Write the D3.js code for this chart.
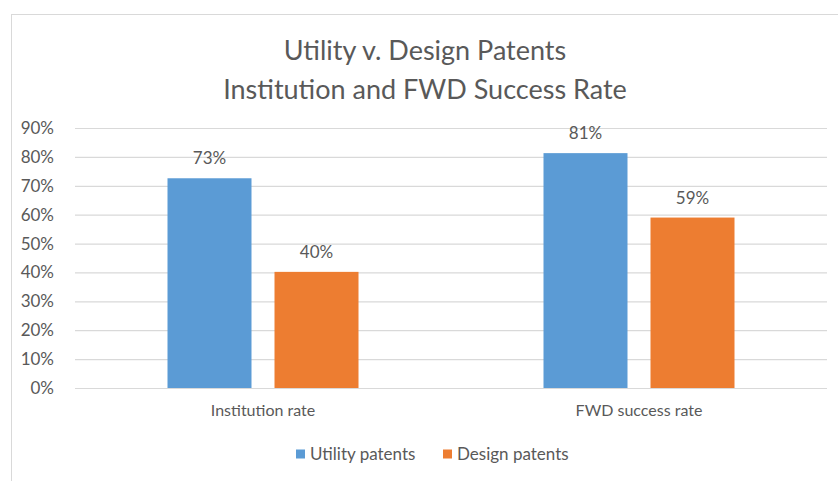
<!DOCTYPE html>
<html>
<head>
<meta charset="utf-8">
<script src="https://cdn.jsdelivr.net/npm/d3@7"></script>
<style>
  body { margin: 0; background: #fff; }
  text { font-family: Lato, "Open Sans", sans-serif; fill: #595959; }
</style>
</head>
<body>
<script>
// chart data
const categories = ['Institution rate', 'FWD success rate'];
const seriesNames = ['Utility patents', 'Design patents'];
const utilityValues = [0.726, 0.813];
const designValues = [0.402, 0.590];
const yTicks = [0, 0.1, 0.2, 0.3, 0.4, 0.5, 0.6, 0.7, 0.8, 0.9];
const titleLines = ['Utility v. Design Patents', 'Institution and FWD Success Rate'];

const colors = ['#5b9bd5', '#ed7d31'];
const W = 838, H = 481;
const margin = { top: 128, right: 11, bottom: 93, left: 75 };

const svg = d3.select('body').append('svg')
    .attr('width', W)
    .attr('height', H);

svg.append('rect')
    .attr('width', W).attr('height', H)
    .attr('fill', 'white');

// chart frame (runs off the right and bottom edge)
svg.append('rect')
    .attr('x', 11.5).attr('y', 14.5)
    .attr('width', 900).attr('height', 600)
    .attr('fill', 'none')
    .attr('stroke', '#d9d9d9');

const width = W - margin.left - margin.right;
const height = H - margin.top - margin.bottom;
const g = svg.append('g').attr('transform', `translate(${margin.left},${margin.top})`);

const x0 = d3.scaleBand().domain(categories).range([0, width]);
const x1 = d3.scaleBand().domain(seriesNames).range([0, 191]).paddingInner(0.215);
const y = d3.scaleLinear().domain([0, 0.9]).range([height, 0]);

// grid lines
g.append('g')
    .call(d3.axisLeft(y).tickValues(yTicks).tickSize(-width).tickFormat(''))
    .call(a => a.select('.domain').remove())
    .call(a => a.selectAll('line').attr('stroke', '#d9d9d9').attr('stroke-width', 1.2));

// y tick labels
g.append('g')
    .attr('transform', 'translate(-18,0)')
    .call(d3.axisLeft(y).tickValues(yTicks).tickSize(0).tickFormat(d3.format('.0%')))
    .call(a => a.select('.domain').remove())
    .call(a => a.selectAll('text').style('font-size', '17px').attr('fill', '#595959'));

// x category labels
g.append('g')
    .attr('transform', `translate(0,${height})`)
    .call(d3.axisBottom(x0).tickSize(0).tickPadding(17))
    .call(a => a.select('.domain').remove())
    .call(a => a.selectAll('text').style('font-size', '16px').attr('fill', '#595959'));

const rows = categories.map((c, i) => ({ cat: c, vals: [utilityValues[i], designValues[i]] }));

const groups = g.selectAll('.grp')
    .data(rows)
    .join('g')
    .attr('transform', d => `translate(${x0(d.cat) + (x0.bandwidth() - 191) / 2},0)`);

groups.selectAll('rect')
    .data(d => d.vals.map((v, j) => ({ s: seriesNames[j], v, j })))
    .join('rect')
    .attr('x', d => x1(d.s))
    .attr('y', d => y(d.v))
    .attr('width', x1.bandwidth())
    .attr('height', d => height - y(d.v))
    .attr('fill', d => colors[d.j]);

groups.selectAll('.lbl')
    .data(d => d.vals.map((v, j) => ({ s: seriesNames[j], v })))
    .join('text')
    .attr('class', 'lbl')
    .attr('x', d => x1(d.s) + x1.bandwidth() / 2)
    .attr('y', d => y(d.v) - 14)
    .attr('text-anchor', 'middle')
    .style('font-size', '17px')
    .text(d => d3.format('.0%')(d.v));

// title
svg.append('g').selectAll('text')
    .data(titleLines)
    .join('text')
    .attr('x', 425)
    .attr('y', (d, i) => 60 + i * 38.5)
    .attr('text-anchor', 'middle')
    .style('font-size', '27px')
    .text(d => d);

// legend
const legend = svg.append('g').attr('transform', 'translate(296,454)');
const offsets = [0, 147];
seriesNames.forEach((s, i) => {
    const item = legend.append('g').attr('transform', `translate(${offsets[i]},0)`);
    item.append('rect')
        .attr('x', 0).attr('y', -4.5)
        .attr('width', 9).attr('height', 9)
        .attr('fill', colors[i]);
    item.append('text')
        .attr('x', 14).attr('y', 0)
        .attr('dy', '0.35em')
        .style('font-size', '17px')
        .text(s);
});
</script>
</body>
</html>
